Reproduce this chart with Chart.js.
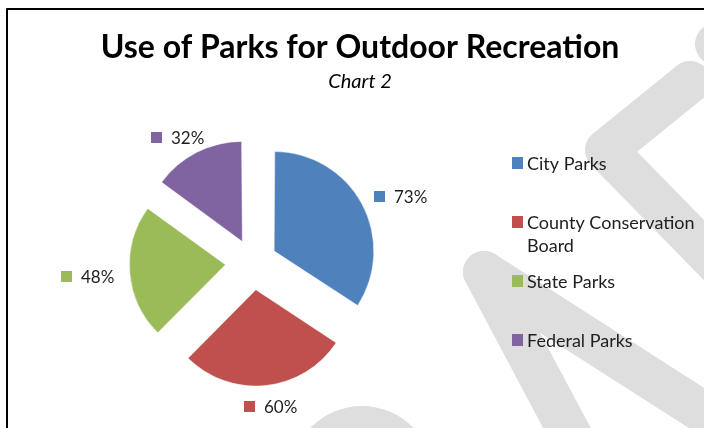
<!DOCTYPE html>
<html>
<head>
<meta charset="utf-8">
<title>Use of Parks for Outdoor Recreation</title>
<script src="https://cdn.jsdelivr.net/npm/chart.js@4.4.1/dist/chart.umd.min.js"></script>
<style>
  html, body { margin: 0; padding: 0; background: #fff; }
  canvas { display: block; }
</style>
</head>
<body>
<canvas id="chart" width="704" height="428"></canvas>
<script>
// data
const categories = ['City Parks', 'County Conservation Board', 'State Parks', 'Federal Parks'];
const percentUse = [73, 60, 48, 32];
const sliceColors = ['#4F81BD', '#C0504D', '#9BBB59', '#8064A2'];

const EXPLODE = 28;        // px each slice is pulled out
const FONT = 'Lato';
const TEXT_COLOR = '#1e1e1e';

// Chart.js moves an arc by offset/4 * (1 + fix); pick offset so every slice moves EXPLODE px
function sliceOffset(c) {
  if (c.dataIndex === undefined) return 0;
  const vals = c.dataset.data;
  const total = vals.reduce((a, b) => a + b, 0);
  const circ = vals[c.dataIndex] / total * Math.PI * 2;
  const fix = 1 - Math.sin(Math.min(Math.PI, circ));
  return 4 * EXPLODE / (1 + fix);
}

// grey watermark strokes behind the chart + frame
const watermark = {
  id: 'watermark',
  beforeDraw(chart) {
    const ctx = chart.ctx;
    ctx.save();
    ctx.fillStyle = '#fff';
    ctx.fillRect(0, 0, chart.width, chart.height);
    ctx.strokeStyle = '#dedede';
    ctx.fillStyle = '#dedede';
    ctx.lineWidth = 42;
    ctx.lineCap = 'round';
    ctx.lineJoin = 'round';
    const strokes = [
      [[690, 82], [606, 150], [745, 292]],
      [[716, 44], [790, -16]],
      [[484, 272], [585, 462]],
      [[484, 272], [770, 455]]
    ];
    strokes.forEach(pts => {
      ctx.beginPath();
      pts.forEach((p, i) => i ? ctx.lineTo(p[0], p[1]) : ctx.moveTo(p[0], p[1]));
      ctx.stroke();
    });
    ctx.beginPath();
    ctx.arc(362, 478, 72, 0, Math.PI * 2);
    ctx.fill();
    ctx.strokeStyle = '#000';
    ctx.lineWidth = 2;
    ctx.strokeRect(7, 9, 800, 500);
    ctx.restore();
  }
};

// "73%" style labels with a colour square, outside each slice
const sliceLabels = {
  id: 'sliceLabels',
  afterDatasetsDraw(chart) {
    const ctx = chart.ctx;
    const ds = chart.data.datasets[0];
    ctx.save();
    ctx.font = '17px ' + FONT;
    ctx.textBaseline = 'middle';
    chart.getDatasetMeta(0).data.forEach((arc, i) => {
      const p = arc.getProps(['x', 'y', 'startAngle', 'endAngle', 'outerRadius']);
      const mid = (p.startAngle + p.endAngle) / 2;
      const dx = Math.cos(mid), dy = Math.sin(mid);
      const dist = EXPLODE + p.outerRadius + 13;
      const text = ds.data[i] + '%';
      const w = 19 + ctx.measureText(text).width;
      const cx = p.x + dx * (dist + 4) + dx * w / 2;
      const cy = p.y + dy * dist + dy * 6 + 2;
      const left = Math.round(cx - w / 2);
      ctx.fillStyle = ds.backgroundColor[i];
      ctx.fillRect(left, Math.round(cy - 5.5), 11, 11);
      ctx.fillStyle = TEXT_COLOR;
      ctx.fillText(text, left + 20, cy + 1);
    });
    ctx.restore();
  }
};

function wrapWords(ctx, text, maxWidth) {
  const lines = [];
  let line = '';
  text.split(' ').forEach(word => {
    const test = line ? line + ' ' + word : word;
    if (line && ctx.measureText(test).width > maxWidth) {
      lines.push(line);
      line = word;
    } else {
      line = test;
    }
  });
  lines.push(line);
  return lines;
}

// legend on the right, as a layout box so the pie sits left of it
const sideLegend = {
  id: 'sideLegend',
  start(chart) {
    const box = {
      position: 'right',
      weight: 1000,
      fullSize: false,
      options: {},
      width: 0,
      height: 0,
      isHorizontal() { return false; },
      update(maxWidth, maxHeight) {
        this.width = Math.min(214, maxWidth);
        this.height = maxHeight;
      },
      draw() {
        const ctx = chart.ctx;
        const ds = chart.data.datasets[0];
        ctx.save();
        ctx.font = '18px ' + FONT;
        ctx.textBaseline = 'middle';
        chart.data.labels.forEach((label, i) => {
          const y = this.top + 52 + i * 59;
          const x = this.left + 22;
          ctx.fillStyle = ds.backgroundColor[i];
          ctx.fillRect(x, Math.round(y - 6), 11, 12);
          ctx.fillStyle = TEXT_COLOR;
          wrapWords(ctx, label, 180).forEach((ln, j) => {
            ctx.fillText(ln, x + 15, y + 1 + j * 23);
          });
        });
        ctx.restore();
      }
    };
    chart.$sideLegend = box;
    Chart.layouts.addBox(chart, box);
  },
  stop(chart) {
    Chart.layouts.removeBox(chart, chart.$sideLegend);
  }
};

new Chart(document.getElementById('chart'), {
  type: 'pie',
  data: {
    labels: categories,
    datasets: [{
      data: percentUse,
      backgroundColor: sliceColors,
      borderColor: 'rgba(255,255,255,0.45)',
      borderWidth: 1,
      offset: sliceOffset,
      hoverOffset: 0
    }]
  },
  options: {
    responsive: false,
    animation: false,
    events: [],
    layout: { padding: { left: 16, right: 0, top: 8, bottom: 14 } },
    plugins: {
      legend: { display: false },
      tooltip: { enabled: false },
      title: {
        display: true,
        text: 'Use of Parks for Outdoor Recreation',
        color: '#000',
        font: { family: FONT, size: 32, weight: 'bold' },
        padding: { top: 20, bottom: 3.6 }
      },
      subtitle: {
        display: true,
        text: 'Chart 2',
        color: '#000',
        font: { family: FONT, size: 20, style: 'italic', weight: 'normal' },
        padding: { top: 0, bottom: 17 }
      }
    }
  },
  plugins: [watermark, sliceLabels, sideLegend]
});
</script>
</body>
</html>
